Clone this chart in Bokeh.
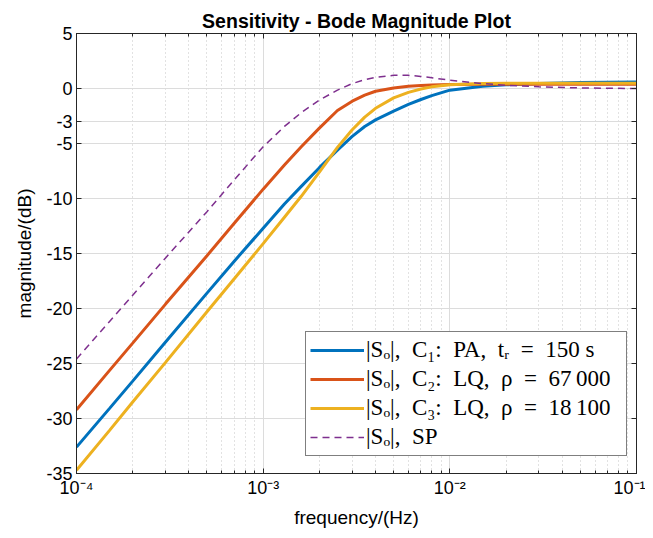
from bokeh.plotting import figure
from bokeh.models import (FixedTicker, LogTicker, LogAxis, LinearAxis, Legend, LegendItem,
                          CustomJSTickFormatter, Range1d, ColumnDataSource)
from bokeh.embed import file_html
from bokeh.resources import INLINE

# ---------------- data ----------------
freq_hz = [1e-4, 1.5e-4, 2e-4, 3e-4, 5e-4, 7e-4, 1e-3, 1.3e-3, 1.6e-3, 2e-3, 2.5e-3,
           3e-3, 3.5e-3, 4e-3, 5e-3, 6e-3, 7e-3, 8e-3, 1e-2, 1.5e-2, 2e-2, 3e-2, 5e-2, 1e-1]

so_c1_pa = [-32.6, -29.1, -26.6, -23.05, -18.6, -15.7, -12.7, -10.5, -8.9, -7.2, -5.6,
            -4.35, -3.45, -2.85, -2.05, -1.45, -1.0, -0.65, -0.15, 0.2, 0.33, 0.45, 0.55, 0.6]
so_c2_lq = [-29.2, -25.65, -23.15, -19.6, -15.2, -12.25, -9.15, -6.95, -5.3, -3.6, -2.0,
            -1.15, -0.6, -0.25, 0.05, 0.2, 0.27, 0.32, 0.36, 0.38, 0.38, 0.38, 0.38, 0.38]
so_c3_lq = [-34.7, -31.1, -28.5, -24.9, -20.3, -17.3, -14.1, -11.7, -9.8, -7.6, -5.35,
            -3.75, -2.6, -1.8, -0.85, -0.35, -0.05, 0.15, 0.35, 0.45, 0.47, 0.47, 0.47, 0.47]
so_sp = [-24.6, -21.2, -18.8, -15.4, -11.2, -8.3, -5.3, -3.45, -2.2, -1.05, -0.15,
         0.45, 0.8, 1.02, 1.2, 1.2, 1.1, 0.98, 0.75, 0.45, 0.3, 0.15, 0.05, 0.0]

series_labels = ["|Sₒ|,\u2002C₁:\u2002PA,\u2002tᵣ\u2002=\u2002150 s",
                 "|Sₒ|,\u2002C₂:\u2002LQ,\u2002ρ\u2002=\u200267\u2009000",
                 "|Sₒ|,\u2002C₃:\u2002LQ,\u2002ρ\u2002=\u200218\u2009100",
                 "|Sₒ|,\u2002SP"]

y_ticks = [-35, -30, -25, -20, -15, -10, -5, -3, 0, 5]
y_tick_labels = ["-35", "-30", "-25", "-20", "-15", "-10", "-5", "-3", "0", "5"]

title_text = "Sensitivity - Bode Magnitude Plot"
x_label = "frequency/(Hz)"
y_label = "magnitude/(dB)"

# ---------------- styling ----------------
SANS = "Liberation Sans"
SERIF = "Liberation Serif"
AX = "#262626"
colors = ["#0072BD", "#D95319", "#EDB120", "#7E2F8E"]

p = figure(width=645, height=530, x_axis_type="log",
           x_range=Range1d(1e-4, 1e-1), y_range=Range1d(-35, 5),
           output_backend="svg", toolbar_location=None,
           min_border_left=76, min_border_right=9, min_border_top=33, min_border_bottom=57)

p.title.text = title_text
p.title.align = "center"
p.title.text_font = SANS
p.title.text_font_size = "19.5px"
p.title.text_font_style = "bold"
p.title.text_color = "#000000"
p.title.standoff = 4

p.outline_line_color = AX
p.outline_line_width = 1
p.background_fill_color = "white"
p.border_fill_color = "white"

sup = CustomJSTickFormatter(code="""
const m = {'-':'\u207b','0':'\u2070','1':'\u00b9','2':'\u00b2','3':'\u00b3','4':'\u2074',
           '5':'\u2075','6':'\u2076','7':'\u2077','8':'\u2078','9':'\u2079'};
const e = Math.round(Math.log10(tick));
return '10' + String(e).split('').map(c => m[c]).join('');
""")

xa = p.xaxis[0]
xa.ticker = LogTicker(mantissas=[1], num_minor_ticks=10)
xa.formatter = sup
ya = p.yaxis[0]
ya.ticker = FixedTicker(ticks=y_ticks)
ya.major_label_overrides = {t: s for t, s in zip(y_ticks, y_tick_labels)}

for ax in (xa, ya):
    ax.axis_line_color = AX
    ax.major_tick_line_color = AX
    ax.minor_tick_line_color = AX
    ax.major_tick_in = 5
    ax.major_tick_out = 0
    ax.minor_tick_in = 3
    ax.minor_tick_out = 0
    ax.major_label_text_font = SANS
    ax.major_label_text_font_size = "18px"
    ax.major_label_text_color = "#000000"
    ax.axis_label_text_font = SANS
    ax.axis_label_text_font_size = "19px"
    ax.axis_label_text_font_style = "normal"
    ax.axis_label_text_color = "#000000"
    ax.major_label_standoff = 4

xa.axis_label = x_label
ya.axis_label = y_label
xa.axis_label_standoff = 6
ya.axis_label_standoff = 8

# box ticks on top and right
empty = CustomJSTickFormatter(code="return '';")
top = LogAxis(ticker=LogTicker(mantissas=[1], num_minor_ticks=10), formatter=empty)
right = LinearAxis(ticker=FixedTicker(ticks=y_ticks), formatter=empty)
for ax in (top, right):
    ax.axis_line_color = AX
    ax.major_tick_line_color = AX
    ax.minor_tick_line_color = AX
    ax.major_tick_in = 5
    ax.major_tick_out = 0
    ax.minor_tick_in = 3
    ax.minor_tick_out = 0
    ax.major_label_standoff = 0
    ax.major_label_text_font_size = "1px"
p.add_layout(top, "above")
p.add_layout(right, "right")

p.xgrid.grid_line_color = "#dcdcdc"
p.xgrid.grid_line_width = 1
p.xgrid.minor_grid_line_color = "#c4c4c4"
p.xgrid.minor_grid_line_dash = "1 3"
p.ygrid.grid_line_color = "#dcdcdc"
p.ygrid.grid_line_width = 1

src = ColumnDataSource(dict(f=freq_hz, c1=so_c1_pa, c2=so_c2_lq, c3=so_c3_lq, sp=so_sp))
r1 = p.line("f", "c1", source=src, line_color=colors[0], line_width=3)
r2 = p.line("f", "c2", source=src, line_color=colors[1], line_width=3)
r3 = p.line("f", "c3", source=src, line_color=colors[2], line_width=3)
r4 = p.line("f", "sp", source=src, line_color=colors[3], line_width=1.5, line_dash="7 5")

legend = Legend(items=[LegendItem(label=series_labels[i] + "\u2002", renderers=[r])
                       for i, r in enumerate([r1, r2, r3, r4])],
                location=(229, 17), orientation="vertical")
legend.label_text_font = SERIF
legend.label_text_font_size = "23px"
legend.label_text_color = "#000000"
legend.border_line_color = "#000000"
legend.border_line_width = 1
legend.background_fill_color = "white"
legend.background_fill_alpha = 1
legend.glyph_width = 54
legend.glyph_height = 28
legend.label_height = 28
legend.label_standoff = 2
legend.spacing = 1
legend.padding = 4
legend.margin = 0
p.add_layout(legend)

open("out.html", "w").write(file_html(p, INLINE))
